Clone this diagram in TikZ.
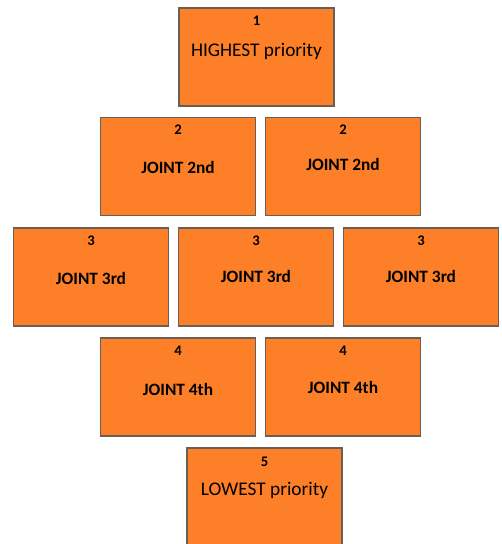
\documentclass[tikz,border=0pt]{standalone}
\usepackage{fontspec}
\setmainfont{Carlito}
\usetikzlibrary{positioning}
\definecolor{boxorange}{RGB}{253,127,39}
\definecolor{boxedge}{RGB}{105,95,85}
\tikzset{
  prio/.style={draw=boxedge, line width=1pt, fill=boxorange, inner sep=0pt,
    minimum width=116.25pt, minimum height=73.5pt},
  rank/.style={inner sep=0pt, font=\bfseries\fontsize{11}{13}\selectfont},
  joint/.style={inner sep=0pt, font=\bfseries\fontsize{13}{15}\selectfont},
  tier/.style={inner sep=0pt, font=\fontsize{14.5}{17}\selectfont}
}
\begin{document}
\begin{tikzpicture}[x=0.75pt,y=-0.75pt]
\useasboundingbox (0,0) rectangle (502,544);
% highest priority
\node[prio] (P1) at (256.5,57) {};
\node[rank] (N1) at ([yshift=-10pt]P1.north) {1};
\node[tier] (T1) at ([yshift=-33pt]P1.north) {HIGHEST priority};
% joint 2nd
\node[prio] (P2a) at (178,166.5) {};
\node[prio] (P2b) at (343,166.5) {};
\node[rank] (N2a) at ([yshift=-10pt]P2a.north) {2};
\node[rank] (N2b) at ([yshift=-10pt]P2b.north) {2};
\node[joint] (T2a) at ([yshift=-38pt]P2a.north) {JOINT 2nd};
\node[joint] (T2b) at ([yshift=-36pt]P2b.north) {JOINT 2nd};
% joint 3rd
\node[prio] (P3a) at (91,277) {};
\node[prio] (P3b) at (256,277) {};
\node[prio] (P3c) at (421,277) {};
\node[rank] (N3a) at ([yshift=-10pt]P3a.north) {3};
\node[rank] (N3b) at ([yshift=-10pt]P3b.north) {3};
\node[rank] (N3c) at ([yshift=-10pt]P3c.north) {3};
\node[joint] (T3a) at ([yshift=-38pt]P3a.north) {JOINT 3rd};
\node[joint] (T3b) at ([yshift=-36.5pt]P3b.north) {JOINT 3rd};
\node[joint] (T3c) at ([yshift=-36.5pt]P3c.north) {JOINT 3rd};
% joint 4th
\node[prio] (P4a) at (178,387) {};
\node[prio] (P4b) at (343,387) {};
\node[rank] (N4a) at ([yshift=-10pt]P4a.north) {4};
\node[rank] (N4b) at ([yshift=-10pt]P4b.north) {4};
\node[joint] (T4a) at ([yshift=-39pt]P4a.north) {JOINT 4th};
\node[joint] (T4b) at ([yshift=-37.5pt]P4b.north) {JOINT 4th};
% lowest priority
\node[prio] (P5) at (264.5,497) {};
\node[rank] (N5) at ([yshift=-10.5pt]P5.north) {5};
\node[tier] (T5) at ([yshift=-32.5pt]P5.north) {LOWEST priority};
\end{tikzpicture}
\end{document}
